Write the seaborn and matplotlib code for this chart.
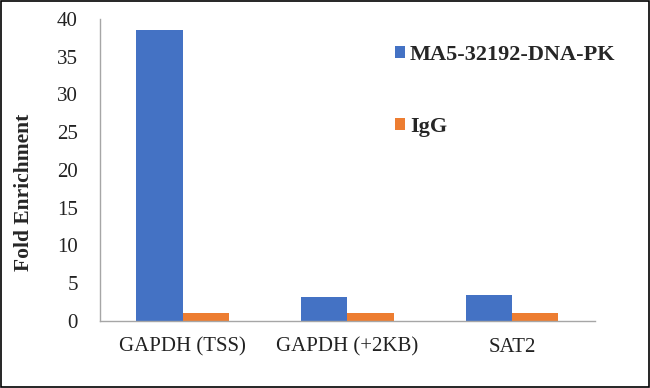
import matplotlib
matplotlib.use("Agg")
import matplotlib.pyplot as plt
import seaborn as sns
import pandas as pd
from matplotlib.patches import Rectangle

categories = ["GAPDH (TSS)", "GAPDH (+2KB)", "SAT2"]
series_names = ["MA5-32192-DNA-PK", "IgG"]
dnapk_values = [38.5, 3.1, 3.4]
igg_values = [1.1, 1.1, 1.1]
y_ticks = [0, 5, 10, 15, 20, 25, 30, 35, 40]
colors = ["#4472C4", "#ED7D31"]

df = pd.DataFrame({
    "Target": categories * 2,
    "Series": [series_names[0]] * 3 + [series_names[1]] * 3,
    "Value": dnapk_values + igg_values,
})

sns.set_theme(style="white")
plt.rcParams["font.family"] = ["Liberation Serif", "DejaVu Serif"]

fig = plt.figure(figsize=(6.5, 3.88), dpi=100)
ax = fig.add_axes([0.154, 0.173, 0.761, 0.778])

sns.barplot(data=df, x="Target", y="Value", hue="Series", hue_order=series_names,
            order=categories, palette=colors, width=0.56, gap=0, saturation=1,
            edgecolor="none", linewidth=0, ax=ax, legend=True)

ax.set_xlim(-0.5, 2.5)
ax.set_ylim(0, 40)
ax.set_yticks(y_ticks)
ax.set_yticklabels([str(t) for t in y_ticks], fontsize=15, color="#222222")
ax.set_xticks([-0.5, 0.5, 1.5, 2.5])
ax.set_xticklabels(["", "", "", ""])
ax.set_xticks([0, 1, 2], minor=True)
ax.set_xticklabels(categories, minor=True, fontsize=15, color="#222222")
ax.tick_params(axis="x", which="major", length=6, width=1, color="#a6a6a6", direction="out")
ax.tick_params(axis="x", which="minor", length=0, pad=12)
ax.tick_params(axis="y", length=6, width=1, color="#a6a6a6", direction="out", pad=10)
ax.set_xlabel("")
ax.set_ylabel("Fold Enrichment", fontsize=15.5, fontweight="bold")
ax.yaxis.set_label_coords(-0.133, 0.427)

for s in ["top", "right"]:
    ax.spines[s].set_visible(False)
for s in ["left", "bottom"]:
    ax.spines[s].set_color("#a6a6a6")
    ax.spines[s].set_linewidth(1)

handles, labels = ax.get_legend_handles_labels()
ax.get_legend().remove()
fig.legend(handles, labels, loc="upper left", bbox_to_anchor=(0.607, 0.885),
           frameon=False, prop={"weight": "bold", "size": 16},
           handlelength=0.45, handleheight=0.45, handletextpad=0.25,
           labelspacing=2.35, borderaxespad=0, borderpad=0)

fig.patches.append(Rectangle((0.0015, 0.0015), 0.997, 0.997, transform=fig.transFigure,
                             fill=False, edgecolor="black", linewidth=1.2))

fig.savefig("out.png", dpi=100, facecolor="white")
